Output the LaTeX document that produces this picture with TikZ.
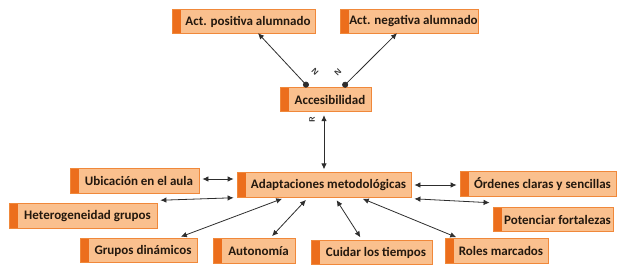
\documentclass[tikz,border=0pt]{standalone}
\usepackage{fontspec}
\setmainfont{Carlito}
\usepackage{xcolor}
\usepackage{tikz}
\usetikzlibrary{arrows.meta,positioning,calc}
\definecolor{mPeach}{RGB}{250,192,142}
\definecolor{mOrange}{RGB}{240,136,58}
\definecolor{mStripe}{RGB}{236,110,28}
\definecolor{mInk}{RGB}{35,24,14}
\definecolor{mArrow}{RGB}{45,45,45}
\tikzset{
tag/.style={rectangle,draw=mOrange,thick,fill=mPeach,minimum height=24.5pt,inner sep=0pt,text=mInk,font=\bfseries\fontsize{13}{15}\selectfont,execute at begin node=\hspace*{9pt},path picture={\fill[mStripe] (path picture bounding box.south west) rectangle ([xshift=9pt]path picture bounding box.north west);}},
link/.style={{Latex[length=6pt,width=5.5pt]}-{Latex[length=6pt,width=5.5pt]},thick,draw=mArrow,shorten <=3pt,shorten >=3pt},
dotlink/.style={{Circle[length=6pt]}-{Latex[length=6pt,width=5.5pt]},thick,draw=mArrow},
mark label/.style={font=\sffamily\bfseries\fontsize{8}{9}\selectfont,text=mArrow,inner sep=0pt}
}
\begin{document}
\begin{tikzpicture}[x=1pt,y=-1pt]
\useasboundingbox (0,0) rectangle (624,269);
% upper part
\node[tag,minimum width=143pt] (pos) at (243.5,21.5) {Act. positiva alumnado};
\node[tag,minimum width=138pt] (neg) at (409,21.5) {Act. negativa alumnado};
\node[tag,minimum width=91pt] (acc) at (325.5,99.5) {Accesibilidad};
% central box and the ones around it
\node[tag,minimum width=174pt] (adapt) at (324,185) {Adaptaciones metodológicas};
\node[tag,minimum width=129pt] (ubic) at (134.5,181) {Ubicación en el aula};
\node[tag,minimum width=148pt] (hetero) at (83,216) {Heterogeneidad grupos};
\node[tag,minimum width=117pt] (grupos) at (138.5,250.5) {Grupos dinámicos};
\node[tag,minimum width=82pt] (auton) at (254,251) {Autonomía};
\node[tag,minimum width=121pt] (cuidar) at (371.5,252.5) {Cuidar los tiempos};
\node[tag,minimum width=103pt] (roles) at (496.5,251) {Roles marcados};
\node[tag,minimum width=156pt] (ordenes) at (538,184) {Órdenes claras y sencillas};
\node[tag,minimum width=120pt] (potenc) at (553,219.5) {Potenciar fortalezas};
% connectors
\draw[dotlink] ([xshift=-17.5pt]acc.north) -- ([xshift=14.5pt,yshift=1pt]pos.south);
\draw[dotlink] ([xshift=17.5pt]acc.north) -- ([xshift=-12pt,yshift=1pt]neg.south);
\node[mark label,rotate=-45] (n1) at (315,72) {N};
\node[mark label,rotate=45] (n2) at (338,72) {N};
\draw[link] ([xshift=-1.5pt]acc.south) -- (adapt.north);
\node[mark label,rotate=90] (r1) at (312,120) {R};
\draw[link] ([yshift=2pt]ubic.east) -- ([yshift=2pt]ubic.east -| adapt.west);
\draw[link] ([yshift=3pt]hetero.north east) -- ([yshift=0pt]adapt.south west);
\draw[link] ([xshift=39.5pt]grupos.north) -- ([xshift=-39pt]adapt.south);
\draw[link] ([xshift=16pt]auton.north) -- ([xshift=-16pt]adapt.south);
\draw[link] ([xshift=11pt]adapt.south) -- ([xshift=-9.5pt]cuidar.north);
\draw[link] ([xshift=36pt]adapt.south) -- ([xshift=-37.5pt]roles.north);
\draw[link] (adapt.east) -- (adapt.east -| ordenes.west);
\draw[link] ([yshift=-1pt]adapt.south east) -- ([yshift=4pt]potenc.north west);
\end{tikzpicture}
\end{document}
